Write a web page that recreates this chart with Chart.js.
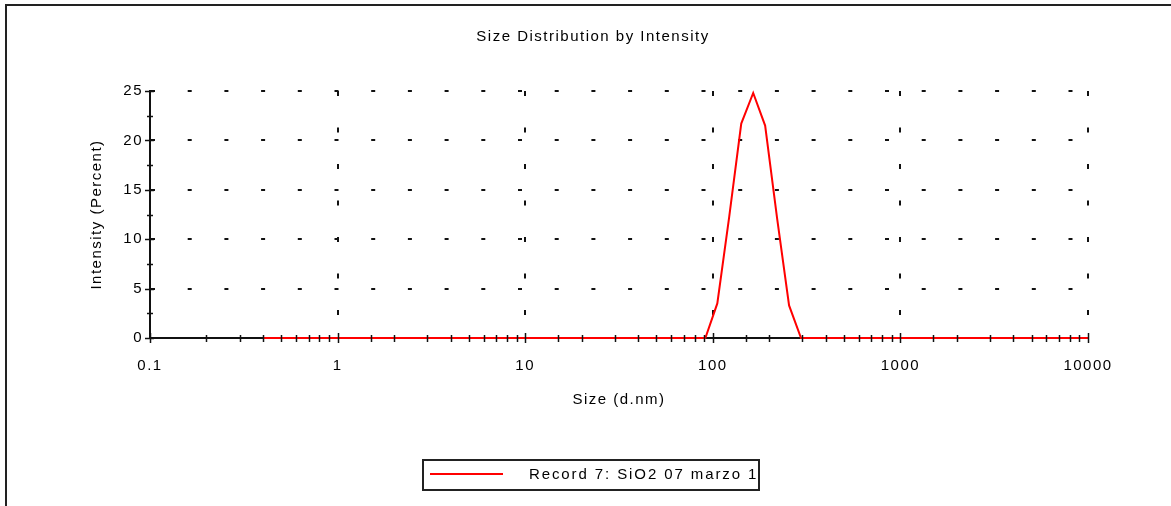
<!DOCTYPE html>
<html>
<head>
<meta charset="utf-8">
<script src="https://cdn.jsdelivr.net/npm/chart.js@4.4.1/dist/chart.umd.min.js"></script>
<style>
  body { margin: 0; background: #fff; }
  #wrap { position: relative; width: 1171px; height: 506px; }
  #frame { position: absolute; left: 5px; top: 4px; right: 0; bottom: 0; border-top: 2px solid #222; border-left: 2px solid #222; pointer-events: none; }
</style>
</head>
<body>
<div id="wrap">
  <canvas id="myChart" width="1171" height="506"></canvas>
  <div id="frame"></div>
</div>
<script>
// size classes (d.nm) of the instrument, 0.4 .. 10000
const sizes = [0.4, 0.4632, 0.5365, 0.6213, 0.7195, 0.8332, 0.9649, 1.117, 1.294, 1.499,
  1.736, 2.010, 2.328, 2.696, 3.122, 3.615, 4.187, 4.849, 5.615, 6.503,
  7.531, 8.721, 10.10, 11.70, 13.54, 15.69, 18.17, 21.04, 24.36, 28.21,
  32.67, 37.84, 43.82, 50.75, 58.77, 68.06, 78.82, 91.28, 105.7, 122.4,
  141.8, 164.2, 190.1, 220.2, 255.0, 295.3, 342.0, 396.1, 458.7, 531.2,
  615.1, 712.4, 825.0, 955.4, 1106, 1281, 1484, 1718, 1990, 2305,
  2669, 3091, 3580, 4145, 4801, 5560, 6439, 7456, 8635, 10000];

// intensity (percent) for each size class
const intensity = [0, 0, 0, 0, 0, 0, 0, 0, 0, 0,
  0, 0, 0, 0, 0, 0, 0, 0, 0, 0,
  0, 0, 0, 0, 0, 0, 0, 0, 0, 0,
  0, 0, 0, 0, 0, 0, 0, 0, 3.5, 12.3,
  21.7, 24.8, 21.5, 12.1, 3.3, 0, 0, 0, 0, 0,
  0, 0, 0, 0, 0, 0, 0, 0, 0, 0,
  0, 0, 0, 0, 0, 0, 0, 0, 0, 0];

const xTickLabels = ["0.1", "1", "10", "100", "1000", "10000"];
const yTickLabels = [0, 5, 10, 15, 20, 25];
const chartTitle = "Size Distribution by Intensity";
const recordLabel = "Record 7: SiO2 07 marzo 1";

const FONT = "'Liberation Sans', Arial, sans-serif";
const SPACING = "1.5px";
const INK = "#111";

function decadeIndex(v) {
  const l = Math.log10(v);
  const r = Math.round(l);
  return Math.abs(l - r) < 1e-6 ? r + 1 : -1;
}

// the original renders text with wide letter spacing
const spacing = {
  id: "spacing",
  beforeLayout(chart) { chart.ctx.letterSpacing = SPACING; },
  beforeDraw(chart) { chart.ctx.letterSpacing = SPACING; },
};

// title sits a bit right of the canvas centre in the original
const topTitle = {
  id: "topTitle",
  afterDraw(chart) {
    const ctx = chart.ctx;
    ctx.save();
    ctx.letterSpacing = SPACING;
    ctx.font = "15px " + FONT;
    ctx.fillStyle = "#000";
    ctx.textAlign = "center";
    ctx.textBaseline = "middle";
    ctx.fillText(chartTitle, 593, 37);
    ctx.restore();
  },
};

// small tick marks crossing the axes, also the minor ones
const crossTicks = {
  id: "crossTicks",
  afterDatasetsDraw(chart) {
    const { ctx, scales } = chart;
    const x = scales.x;
    const y = scales.y;
    ctx.save();
    ctx.strokeStyle = INK;
    ctx.lineWidth = 1.5;
    x.ticks.forEach((t) => {
      const px = Math.round(x.getPixelForValue(t.value)) + 0.5;
      const big = decadeIndex(t.value) >= 0;
      ctx.beginPath();
      ctx.moveTo(px, x.top - (big ? 5 : 3));
      ctx.lineTo(px, x.top + (big ? 5 : 4));
      ctx.stroke();
    });
    y.ticks.forEach((t) => {
      const py = Math.round(y.getPixelForValue(t.value)) + 0.5;
      const big = yTickLabels.includes(t.value);
      ctx.beginPath();
      ctx.moveTo(y.right - (big ? 5 : 3), py);
      ctx.lineTo(y.right + (big ? 4 : 3), py);
      ctx.stroke();
    });
    ctx.restore();
  },
};

// boxed legend under the plot
const boxLegend = {
  id: "boxLegend",
  afterDraw(chart) {
    const ctx = chart.ctx;
    const ds = chart.data.datasets[0];
    ctx.save();
    ctx.letterSpacing = "1.9px";
    ctx.font = "15px " + FONT;
    const left = 423, top = 460, w = 336, h = 30;
    ctx.strokeStyle = "#222";
    ctx.lineWidth = 2;
    ctx.strokeRect(left, top, w, h);
    ctx.strokeStyle = ds.borderColor;
    ctx.lineWidth = 2;
    ctx.beginPath();
    ctx.moveTo(left + 7, top + 14);
    ctx.lineTo(left + 80, top + 14);
    ctx.stroke();
    ctx.fillStyle = "#000";
    ctx.textBaseline = "middle";
    ctx.fillText(ds.label, left + 106, top + 15);
    ctx.restore();
  },
};

const myChart = new Chart("myChart", {
  type: "line",
  data: {
    datasets: [
      {
        label: recordLabel,
        data: sizes.map((s, i) => ({ x: s, y: intensity[i] })),
        borderColor: "#ff0000",
        backgroundColor: "#ff0000",
        borderWidth: 2,
        pointRadius: 0,
        tension: 0,
        fill: false,
        clip: 3,
      },
    ],
  },
  options: {
    responsive: false,
    animation: false,
    devicePixelRatio: 1,
    layout: { padding: { top: 91, left: 80, right: 83, bottom: 93 } },
    plugins: {
      legend: { display: false },
      tooltip: { enabled: false },
      title: { display: false },
    },
    scales: {
      x: {
        type: "logarithmic",
        min: 0.1,
        max: 10000,
        afterFit(scale) { scale.height = 75; },
        grid: {
          drawTicks: false,
          lineWidth: 2,
          color: (c) => (c.tick && decadeIndex(c.tick.value) >= 0 ? INK : "rgba(0,0,0,0)"),
        },
        border: { display: true, color: INK, width: 2, dash: [5, 31.5] },
        ticks: {
          autoSkip: false,
          maxRotation: 0,
          padding: 19,
          color: "#000",
          font: { family: FONT, size: 15 },
          callback: (v) => {
            const k = decadeIndex(v);
            return k >= 0 ? xTickLabels[k] : "";
          },
        },
        title: {
          display: true,
          text: "Size (d.nm)",
          color: "#000",
          font: { family: FONT, size: 15 },
          padding: { top: 0, bottom: 4 },
        },
      },
      y: {
        min: 0,
        max: 25,
        afterFit(scale) { scale.width = 70; },
        grid: {
          drawTicks: false,
          lineWidth: 2,
          color: (c) => (c.tick && c.tick.value > 0 && yTickLabels.includes(c.tick.value) ? INK : "rgba(0,0,0,0)"),
        },
        border: { display: true, color: INK, width: 2, dash: [4, 32.7] },
        ticks: {
          stepSize: 2.5,
          padding: 7,
          color: "#000",
          font: { family: FONT, size: 15 },
          callback: (v) => (yTickLabels.includes(v) ? String(v) : ""),
        },
        title: {
          display: true,
          text: "Intensity (Percent)",
          color: "#000",
          font: { family: FONT, size: 15 },
          padding: { top: 8, bottom: 0 },
        },
      },
    },
  },
  plugins: [spacing, topTitle, crossTicks, boxLegend],
});
</script>
</body>
</html>
